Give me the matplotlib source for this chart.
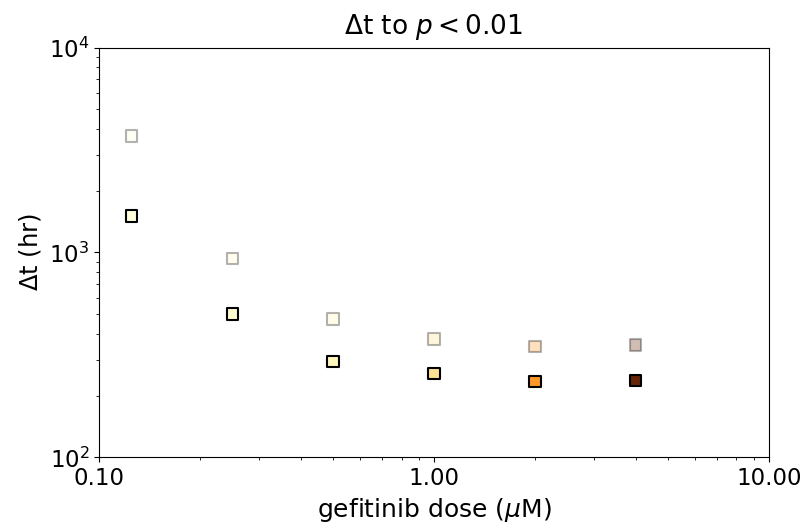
import matplotlib
matplotlib.use('Agg')
import matplotlib.pyplot as plt
from matplotlib.ticker import FormatStrFormatter

doses = [0.125, 0.25, 0.5, 1.0, 2.0, 4.0]
dt_upper = [3700, 936, 473, 378, 347, 353]
dt_lower = [1506, 501, 294, 257, 234, 237]

cmap = plt.get_cmap('YlOrBr')
colors = [cmap(d / max(doses)) for d in doses]

fig = plt.figure(figsize=(8.06, 5.29), dpi=100)
ax = fig.add_axes([0.123, 0.1355, 0.831, 0.7745])

# faded markers for the upper curve
ax.scatter(doses, dt_upper, marker='s', s=70, c=colors, edgecolors='k',
           linewidths=1.5, alpha=0.3, zorder=3)
ax.scatter(doses, dt_lower, marker='s', s=70, c=colors, edgecolors='k',
           linewidths=1.5, zorder=3)

ax.set_xscale('log')
ax.set_yscale('log')
ax.set_xlim(0.1, 10)
ax.set_ylim(100, 10000)
ax.xaxis.set_major_formatter(FormatStrFormatter('%.2f'))
ax.tick_params(labelsize=16.5)

ax.set_title(r'$\Delta$t to $p < 0.01$', fontsize=19, pad=10)
ax.set_xlabel(r'gefitinib dose ($\mu$M)', fontsize=18)
ax.set_ylabel(r'$\Delta$t (hr)', fontsize=17.5)

fig.savefig('out.png', dpi=100)
